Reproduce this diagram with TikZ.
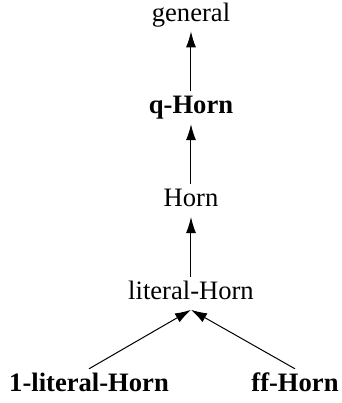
\documentclass[tikz,border=0pt]{standalone}
\usepackage{fontspec}
\setmainfont{Liberation Serif}
\usetikzlibrary{arrows.meta, positioning}

\begin{document}
\begin{tikzpicture}[
  node distance=30pt,
  cls/.style={font=\fontsize{13.3}{15}\selectfont, inner sep=2pt,
              text height=9pt, text depth=3pt},
  bcls/.style={cls, font=\fontsize{13.3}{15}\selectfont\bfseries},
  arr/.style={-{Latex[length=8pt,width=5pt]}, semithick, line width=0.5pt}]
\useasboundingbox (0,0) rectangle (171pt,-201.5pt);
\node[cls] (general) at (95.5pt,-7.5pt) {general};
\node[bcls, below=of general] (qhorn) {q-Horn};
\node[cls, below=of qhorn] (horn) {Horn};
\node[cls, below=of horn] (lithorn) {literal-Horn};
\node[bcls, below=29.5pt of lithorn, xshift=-51pt] (onelit) {1-literal-Horn};
\node[bcls, below=29.5pt of lithorn, xshift=52pt] (ffhorn) {ff-Horn};
\draw[arr] (qhorn) -- (general);
\draw[arr] (horn) -- (qhorn);
\draw[arr] (lithorn) -- (horn);
\draw[arr] (onelit.north) -- (lithorn.south);
\draw[arr] (ffhorn.north) -- (lithorn.south);
\end{tikzpicture}
\end{document}
